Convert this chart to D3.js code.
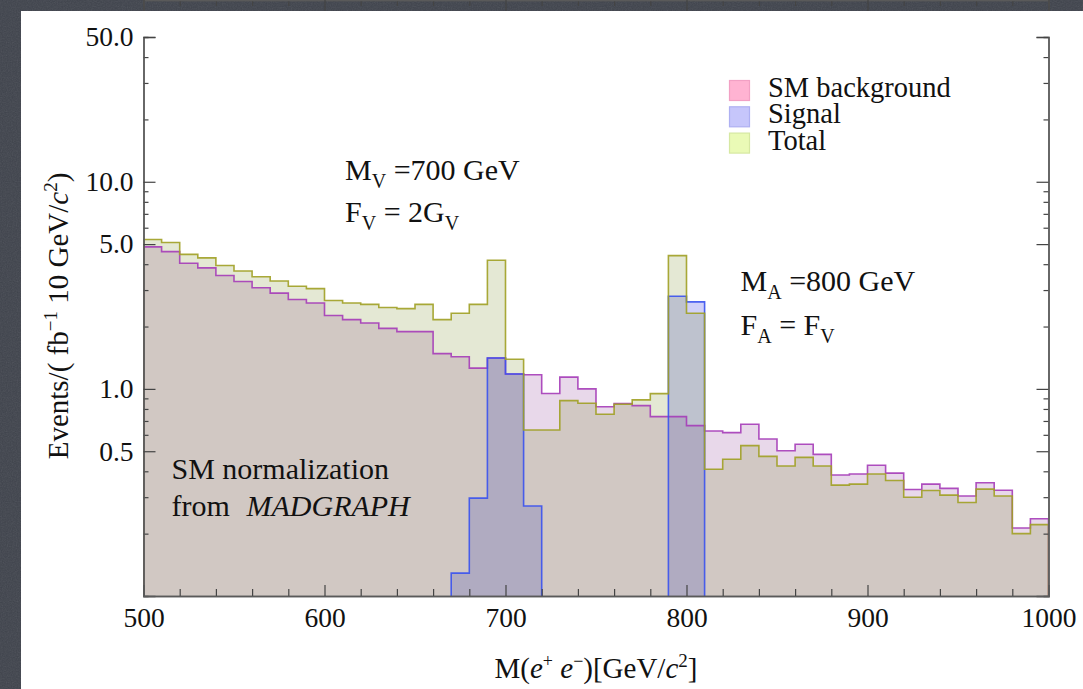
<!DOCTYPE html>
<html lang="en">

<head>
    <meta charset="UTF-8">
    <title>M(e+e-) spectrum</title>
    <style>
        html, body { margin: 0; padding: 0; background: #3f434c; overflow: hidden; }
        svg { display: block; }
        text { font-family: "Liberation Serif", "Times New Roman", serif; fill: #111; }
    </style>
</head>

<body>

    <div id="chart"></div>

    <script src="https://d3js.org/d3.v7.min.js"></script>
    <script>
        // lower edge of every 10 GeV bin
        var binEdges = [500, 510, 520, 530, 540, 550, 560, 570, 580, 590,
            600, 610, 620, 630, 640, 650, 660, 670, 680, 690,
            700, 710, 720, 730, 740, 750, 760, 770, 780, 790,
            800, 810, 820, 830, 840, 850, 860, 870, 880, 890,
            900, 910, 920, 930, 940, 950, 960, 970, 980, 990];
        var binWidth = 10;

        var smBackground = [4.85, 4.60, 4.04, 3.84, 3.53, 3.30, 3.08, 2.90, 2.70, 2.60,
            2.26, 2.16, 2.08, 1.96, 1.89, 1.89, 1.48, 1.43, 1.26, 1.41,
            1.18, 1.17, 0.95, 1.14, 1.00, 0.82, 0.85, 0.83, 0.735, 0.735,
            0.665, 0.626, 0.615, 0.675, 0.573, 0.503, 0.540, 0.483, 0.384, 0.388,
            0.428, 0.392, 0.327, 0.347, 0.331, 0.304, 0.352, 0.324, 0.213, 0.236];

        var signalEvents = [0, 0, 0, 0, 0, 0, 0, 0, 0, 0,
            0, 0, 0, 0, 0, 0, 0, 0.129, 0.297, 1.41,
            1.18, 0.272, 0, 0, 0, 0, 0, 0, 0, 2.80,
            2.63, 0, 0, 0, 0, 0, 0, 0, 0, 0,
            0, 0, 0, 0, 0, 0, 0, 0, 0, 0];

        var totalEvents = [5.26, 5.09, 4.46, 4.29, 3.94, 3.71, 3.48, 3.32, 3.13, 3.05,
            2.67, 2.60, 2.56, 2.47, 2.44, 2.56, 2.16, 2.32, 2.56, 4.18,
            1.39, 0.633, 0.633, 0.878, 0.852, 0.754, 0.843, 0.885, 0.949, 4.40,
            2.32, 0.409, 0.457, 0.532, 0.472, 0.424, 0.467, 0.424, 0.343, 0.347,
            0.388, 0.361, 0.300, 0.323, 0.307, 0.283, 0.328, 0.304, 0.200, 0.221];

        var xTickMajor = [500, 600, 700, 800, 900, 1000];
        var xTickMinor = [520, 540, 560, 580, 620, 640, 660, 680, 720, 740, 760, 780,
            820, 840, 860, 880, 920, 940, 960, 980];
        var yTickMajor = [0.5, 1, 5, 10, 50];
        var yTickLabels = ["0.5", "1.0", "5.0", "10.0", "50.0"];
        var yTickMinor = [0.2, 0.3, 0.4, 0.6, 0.7, 0.8, 0.9, 2, 3, 4, 6, 7, 8, 9, 20, 30, 40];

        var legendLabels = ["SM background", "Signal", "Total"];

        var width = 1083,
            height = 689;

        var svg = d3.select("#chart").append("svg")
            .attr("width", width)
            .attr("height", height);

        var defs = svg.append("defs");

        // grainy slate backdrop
        var noise = defs.append("filter").attr("id", "noise");
        noise.append("feTurbulence")
            .attr("type", "fractalNoise")
            .attr("baseFrequency", 0.8)
            .attr("numOctaves", 2)
            .attr("seed", 3);
        noise.append("feColorMatrix").attr("type", "saturate").attr("values", 0);

        svg.append("rect").attr("width", width).attr("height", height).attr("fill", "#3f434c");
        svg.append("rect").attr("width", width).attr("height", height)
            .attr("filter", "url(#noise)").attr("opacity", 0.13);

        svg.append("rect")
            .attr("x", 21).attr("y", 11)
            .attr("width", width).attr("height", height)
            .attr("fill", "#fff");

        var x = d3.scaleLinear()
            .domain([500, 1000])
            .range([143.5, 1048.5]);

        var y = d3.scaleLog()
            .domain([0.1, 50])
            .range([596, 37]);

        var yMin = y.domain()[0];

        defs.append("clipPath").attr("id", "plotClip")
            .append("rect")
            .attr("x", x.range()[0]).attr("y", y.range()[1])
            .attr("width", x.range()[1] - x.range()[0])
            .attr("height", y.range()[0] - y.range()[1]);

        // histogram outline as a list of corner points
        function stepPoints(values, from, to) {
            var pts = [];
            for (var i = from; i <= to; i++) {
                pts.push([binEdges[i], values[i]]);
                pts.push([binEdges[i] + binWidth, values[i]]);
            }
            return pts;
        }

        // contiguous runs of non-empty bins
        function runs(values) {
            var out = [], start = -1;
            values.forEach(function (v, i) {
                if (v > 0 && start < 0) start = i;
                if ((v <= 0 || i == values.length - 1) && start >= 0) {
                    out.push([start, v > 0 ? i : i - 1]);
                    start = -1;
                }
            });
            return out;
        }

        function closedSteps(values) {
            return runs(values).map(function (r) {
                var pts = stepPoints(values, r[0], r[1]);
                pts.unshift([binEdges[r[0]], yMin]);
                pts.push([binEdges[r[1]] + binWidth, yMin]);
                return pts;
            });
        }

        var area = d3.area()
            .x(function (d) { return x(d[0]); })
            .y0(y(yMin))
            .y1(function (d) { return y(Math.max(d[1], yMin)); });

        var line = d3.line()
            .x(function (d) { return x(d[0]); })
            .y(function (d) { return y(Math.max(d[1], yMin)); });

        var series = [
            { name: legendLabels[0], values: smBackground, fill: "#8c3c96", opacity: 0.2, stroke: "#a53cb8", swatch: "#ffb3d2", swatchStroke: "#f2a0c4" },
            { name: legendLabels[1], values: signalEvents, fill: "#4444e3", opacity: 0.25, stroke: "#3a52ee", swatch: "#c6c6fb", swatchStroke: "#aeb0f2" },
            { name: legendLabels[2], values: totalEvents, fill: "#788c28", opacity: 0.2, stroke: "#a0a024", swatch: "#eafab6", swatchStroke: "#d6e8a2" }
        ];

        var plot = svg.append("g").attr("clip-path", "url(#plotClip)");

        series.forEach(function (s) {
            plot.selectAll(null)
                .data(closedSteps(s.values))
                .enter().append("path")
                .attr("d", area)
                .attr("fill", s.fill)
                .attr("fill-opacity", s.opacity);
        });

        series.forEach(function (s) {
            plot.selectAll(null)
                .data(closedSteps(s.values))
                .enter().append("path")
                .attr("d", line)
                .attr("fill", "none")
                .attr("stroke", s.stroke)
                .attr("stroke-width", 1.6)
                .attr("stroke-opacity", 0.9);
        });

        // frame and ticks, all pointing inwards
        var axisColor = "#444";

        function styleAxis(g) {
            g.select(".domain").attr("stroke", "#5a5a5a").attr("stroke-width", 1.4);
            g.selectAll(".tick line").attr("stroke", axisColor).attr("stroke-width", 1.2);
            g.selectAll(".tick text").attr("font-family", "Liberation Serif").attr("font-size", 27.5).attr("fill", "#111");
        }

        var bottom = y.range()[0], top = y.range()[1];
        var left = x.range()[0], right = x.range()[1];

        svg.append("g").attr("transform", "translate(0," + bottom + ")")
            .call(d3.axisBottom(x).tickValues(xTickMinor).tickSize(-7).tickFormat(""))
            .call(styleAxis);
        svg.append("g").attr("transform", "translate(0," + bottom + ")")
            .call(d3.axisBottom(x).tickValues(xTickMajor).tickSize(-11).tickPadding(11)
                .tickFormat(d3.format("d")))
            .call(styleAxis);

        svg.append("g").attr("transform", "translate(0," + top + ")")
            .call(d3.axisTop(x).tickValues(xTickMinor).tickSize(-6).tickFormat(""))
            .call(styleAxis);
        svg.append("g").attr("transform", "translate(0," + top + ")")
            .call(d3.axisTop(x).tickValues(xTickMajor).tickSize(-11).tickFormat(""))
            .call(styleAxis);

        svg.append("g").attr("transform", "translate(" + left + ",0)")
            .call(d3.axisLeft(y).tickValues(yTickMinor).tickSize(-5).tickFormat(""))
            .call(styleAxis);
        svg.append("g").attr("transform", "translate(" + left + ",0)")
            .call(d3.axisLeft(y).tickValues(yTickMajor).tickSize(-12).tickPadding(10)
                .tickFormat(function (d, i) { return yTickLabels[i]; }))
            .call(styleAxis);

        svg.append("g").attr("transform", "translate(" + right + ",0)")
            .call(d3.axisRight(y).tickValues(yTickMinor).tickSize(-5).tickFormat(""))
            .call(styleAxis);
        svg.append("g").attr("transform", "translate(" + right + ",0)")
            .call(d3.axisRight(y).tickValues(yTickMajor).tickSize(-12).tickFormat(""))
            .call(styleAxis);

        // axis titles
        var yTitle = svg.append("text")
            .attr("transform", "translate(68,316) rotate(-90)")
            .attr("text-anchor", "middle")
            .attr("font-size", 29);
        yTitle.append("tspan").text("Events/( fb");
        yTitle.append("tspan").attr("font-size", 19).attr("dy", -11).text("\u22121");
        yTitle.append("tspan").attr("dy", 11).text(" 10 GeV/");
        yTitle.append("tspan").attr("font-style", "italic").text("c");
        yTitle.append("tspan").attr("font-size", 19).attr("dy", -11).text("2");
        yTitle.append("tspan").attr("dy", 11).text(")");

        var xTitle = svg.append("text")
            .attr("x", (left + right) / 2)
            .attr("y", 678)
            .attr("text-anchor", "middle")
            .attr("font-size", 29);
        xTitle.append("tspan").text("M(");
        xTitle.append("tspan").attr("font-style", "italic").text("e");
        xTitle.append("tspan").attr("font-size", 18).attr("dy", -11).text("+");
        xTitle.append("tspan").attr("dy", 11).attr("font-style", "italic").text(" e");
        xTitle.append("tspan").attr("font-size", 18).attr("dy", -11).text("\u2212");
        xTitle.append("tspan").attr("dy", 11).text(")[GeV/");
        xTitle.append("tspan").attr("font-style", "italic").text("c");
        xTitle.append("tspan").attr("font-size", 19).attr("dy", -11).text("2");
        xTitle.append("tspan").attr("dy", 11).text("]");

        // legend
        var legend = svg.append("g").attr("transform", "translate(729,80)");
        series.forEach(function (s, i) {
            legend.append("rect")
                .attr("x", 0.5).attr("y", i * 26.3 + 0.5)
                .attr("width", 20).attr("height", 20)
                .attr("fill", s.swatch)
                .attr("stroke", s.swatchStroke)
                .attr("stroke-width", 1.2);
            legend.append("text")
                .attr("x", 39)
                .attr("y", i * 26.3 + 17)
                .attr("font-size", 28.5)
                .text(s.name);
        });

        // annotations
        function label(px, py, parts) {
            var t = svg.append("text").attr("x", px).attr("y", py).attr("font-size", 30);
            var shift = 0;
            parts.forEach(function (p) {
                var sp = t.append("tspan").text(p.text);
                var want = p.sub ? 8 : 0;
                if (want != shift) sp.attr("dy", want - shift);
                shift = want;
                if (p.sub) sp.attr("font-size", 20);
                if (p.italic) sp.attr("font-style", "italic");
                if (p.x) sp.attr("x", p.x);
            });
            return t;
        }

        label(345, 180, [{ text: "M" }, { text: "V", sub: true }, { text: " =700 GeV" }]);
        label(345, 222, [{ text: "F" }, { text: "V", sub: true }, { text: " = 2G" }, { text: "V", sub: true }]);
        label(740.5, 291, [{ text: "M" }, { text: "A", sub: true }, { text: " =800 GeV" }]);
        label(740.5, 335, [{ text: "F" }, { text: "A", sub: true }, { text: " = F" }, { text: "V", sub: true }]);
        label(171.5, 479, [{ text: "SM normalization" }]);
        label(171.5, 516, [{ text: "from" }, { text: "MADGRAPH", italic: true, x: 246.5 }]);
    </script>

</body>

</html>
